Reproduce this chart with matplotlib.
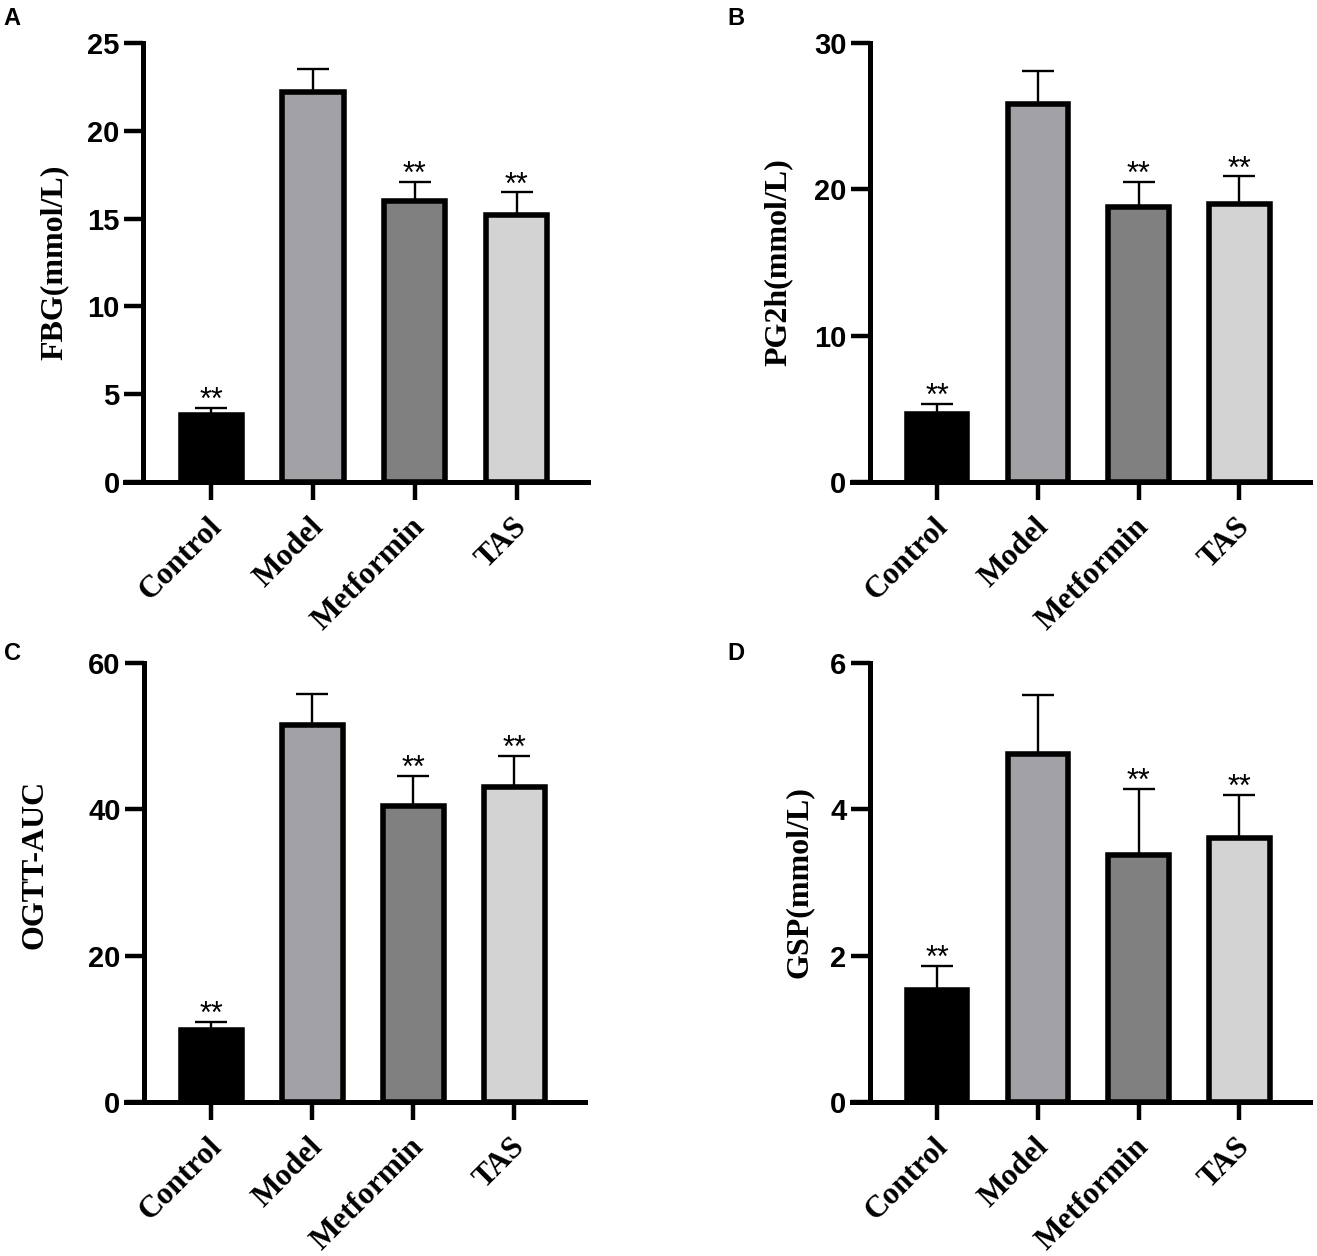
import matplotlib
matplotlib.use("Agg")
import matplotlib.pyplot as plt
import matplotlib.transforms as mtransforms
import numpy as np

groups = ["Control", "Model", "Metformin", "TAS"]
bar_colors = ["#000000", "#a1a1a6", "#808080", "#d3d3d3"]
sig = ["**", "", "**", "**"]

fbg_mean = [3.8, 22.2, 16.0, 15.2]
fbg_err = [0.42, 1.34, 1.1, 1.3]
pg2h_mean = [4.65, 25.8, 18.8, 19.0]
pg2h_err = [0.71, 2.3, 1.7, 1.9]
ogtt_mean = [9.9, 51.5, 40.5, 43.1]
ogtt_err = [1.1, 4.3, 4.06, 4.2]
gsp_mean = [1.53, 4.76, 3.37, 3.61]
gsp_err = [0.33, 0.8, 0.91, 0.59]

fbg_ticks = [0, 5, 10, 15, 20, 25]
pg2h_ticks = [0, 10, 20, 30]
ogtt_ticks = [0, 20, 40, 60]
gsp_ticks = [0, 2, 4, 6]

W, H = 1317, 1256
fig = plt.figure(figsize=(W / 100, H / 100), dpi=100)

SERIF = ["Liberation Serif", "DejaVu Serif"]
SANS = ["Liberation Sans", "DejaVu Sans"]

panels = [
    ("A", "FBG(mmol/L)", fbg_mean, fbg_err, fbg_ticks, (125, 43, 588, 482), -0.121, 0.5, (3, 25)),
    ("B", "PG2h(mmol/L)", pg2h_mean, pg2h_err, pg2h_ticks, (852, 43, 1310, 482), -0.129, 0.5, (727, 25)),
    ("C", "OGTT-AUC", ogtt_mean, ogtt_err, ogtt_ticks, (126, 663, 585, 1102), -0.166, 0.542, (4, 660)),
    ("D", "GSP(mmol/L)", gsp_mean, gsp_err, gsp_ticks, (852, 663, 1310, 1102), -0.083, 0.5, (727, 660)),
]

shift = mtransforms.ScaledTranslation(6 / 100, 0, fig.dpi_scale_trans)

x = np.arange(len(groups))
for letter, ylabel, means, errs, ticks, (l, t, r, b), lx, ly, (px, py) in panels:
    ax = fig.add_axes([l / W, 1 - b / H, (r - l) / W, (b - t) / H])
    for side in ("top", "right"):
        ax.spines[side].set_visible(False)
    ax.spines["left"].set_position(("data", -0.665))
    ax.spines["left"].set_linewidth(3.6)
    ax.spines["bottom"].set_linewidth(3.6)

    ax.bar(x, means, width=0.6, color=bar_colors, edgecolor="black", linewidth=4, zorder=2)
    ax.errorbar(x, means, yerr=[np.zeros(len(means)), errs], fmt="none", ecolor="black",
                elinewidth=1.7, capsize=11.5, capthick=1.7, zorder=1)
    for i, s in enumerate(sig):
        if s:
            ax.annotate(s, (x[i], means[i] + errs[i]), xytext=(0, -1), textcoords="offset points",
                        ha="center", va="baseline", fontsize=22, family=SANS)
    ax.set_xlim(-0.845, 3.70)
    ax.set_ylim(ticks[0], ticks[-1])
    ax.tick_params(axis="x", width=3.2, length=13, pad=16)
    ax.tick_params(axis="y", width=3.2, length=14, pad=3)
    ax.set_yticks(ticks)
    ax.set_yticklabels([str(v) for v in ticks], family=SANS, fontweight="bold", fontsize=21)
    ax.set_xticks(x)
    ax.set_xticklabels(groups, rotation=45, ha="right", va="center", rotation_mode="anchor",
                       family=SERIF, fontweight="bold", fontsize=22.5)
    for lab in ax.get_xticklabels():
        lab.set_transform(lab.get_transform() + shift)
    ax.set_ylabel(ylabel, family=SERIF, fontweight="bold", fontsize=23)
    ax.yaxis.set_label_coords(lx, ly)
    ax.patch.set_visible(False)
    fig.text(px / W, 1 - py / H, letter, family=SANS, fontweight="bold", fontsize=17,
             ha="left", va="baseline")

fig.savefig("out.png", dpi=100)
